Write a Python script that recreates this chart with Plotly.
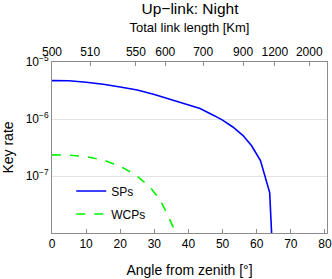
import plotly.graph_objects as go

# Angle from zenith [deg] and log10 key rate
sp_angle = [0, 5, 10, 15, 20, 25, 30, 35, 40, 43.4, 47.7, 50, 53, 56, 58.5, 61.1, 63.8, 64.6]
sp_log = [-5.327, -5.33, -5.355, -5.39, -5.44, -5.49, -5.57, -5.66, -5.75, -5.815, -5.946, -6.02, -6.14, -6.29, -6.47, -6.73, -7.29, -8.3]
wcp_angle = [0, 5, 10, 15, 20, 24.4, 28.7, 31.7, 34.1, 36.1, 36.6]
wcp_log = [-6.629, -6.635, -6.66, -6.72, -6.83, -6.975, -7.19, -7.42, -7.71, -7.975, -8.15]

sp_rate = [10 ** v for v in sp_log]
wcp_rate = [10 ** v for v in wcp_log]

x_ticks = [0, 10, 20, 30, 40, 50, 60, 70, 80]
top_tick_angles = [0, 11.2, 24.6, 33.2, 44.3, 56.0, 65.3, 75.4]
top_tick_labels = ["500", "510", "550", "600", "700", "900", "1200", "2000"]
y_ticks = [1e-7, 1e-6, 1e-5]
y_tick_labels = ["10<sup>−7</sup>", "10<sup>−6</sup>", "10<sup>−5</sup>"]

FONT = "Liberation Sans, Arial, sans-serif"
AX = "#8c8c8c"

W, H = 332, 279

fig = go.Figure()
fig.add_trace(go.Scatter(x=sp_angle, y=sp_rate, mode="lines", name="SPs",
                         line=dict(color="rgb(0,0,255)", width=1.6), legendgroup="a"))
fig.add_trace(go.Scatter(x=wcp_angle, y=wcp_rate, mode="lines", name="WCPs",
                         line=dict(color="rgb(0,245,0)", width=1.6, dash="dash"), legendgroup="b"))
# invisible trace to activate top axis
fig.add_trace(go.Scatter(x=[None], y=[None], xaxis="x2", showlegend=False))

fig.update_layout(
    width=W, height=H,
    margin=dict(l=52, r=5, t=62, b=46, autoexpand=False),
    paper_bgcolor="white", plot_bgcolor="white",
    font=dict(family=FONT, size=12, color="black"),
    title=dict(text="Up−link: Night", x=190 / W, xanchor="center", y=1 - 9 / H, yanchor="middle",
               font=dict(size=15.5), automargin=False),
    showlegend=True,
    legend=dict(x=0.07, y=0.33, xanchor="left", yanchor="top", bgcolor="rgba(0,0,0,0)",
                font=dict(size=12), tracegroupgap=4),
    xaxis=dict(range=[0, 80.6], tickvals=x_ticks, ticks="inside", ticklen=4, tickcolor=AX,
               showline=True, linecolor=AX, linewidth=1, mirror=False, showgrid=False,
               zeroline=False, title=dict(text="Angle from zenith [°]", standoff=14),
               tickfont=dict(size=12), automargin=False),
    xaxis2=dict(range=[0, 80.6], overlaying="x", side="top", tickvals=top_tick_angles,
                ticktext=top_tick_labels, ticks="inside", ticklen=4, tickcolor=AX,
                showline=True, linecolor=AX, linewidth=1, showgrid=False, zeroline=False,
                title=dict(text="Total link length [Km]", standoff=9, font=dict(size=13)),
                tickfont=dict(size=12), automargin=False),
    yaxis=dict(type="log", range=[-8, -5], tickvals=y_ticks, ticktext=y_tick_labels,
               ticks="", showline=True, linecolor=AX, linewidth=1, mirror=True,
               showgrid=True, gridcolor="#e3e3e3", zeroline=False,
               title=dict(text="Key rate", standoff=17), tickfont=dict(size=12),
               automargin=False),
)

fig.write_html("out.html", config={"displayModeBar": False},
               post_script="document.body.style.margin='0';document.documentElement.style.overflow='hidden';")
